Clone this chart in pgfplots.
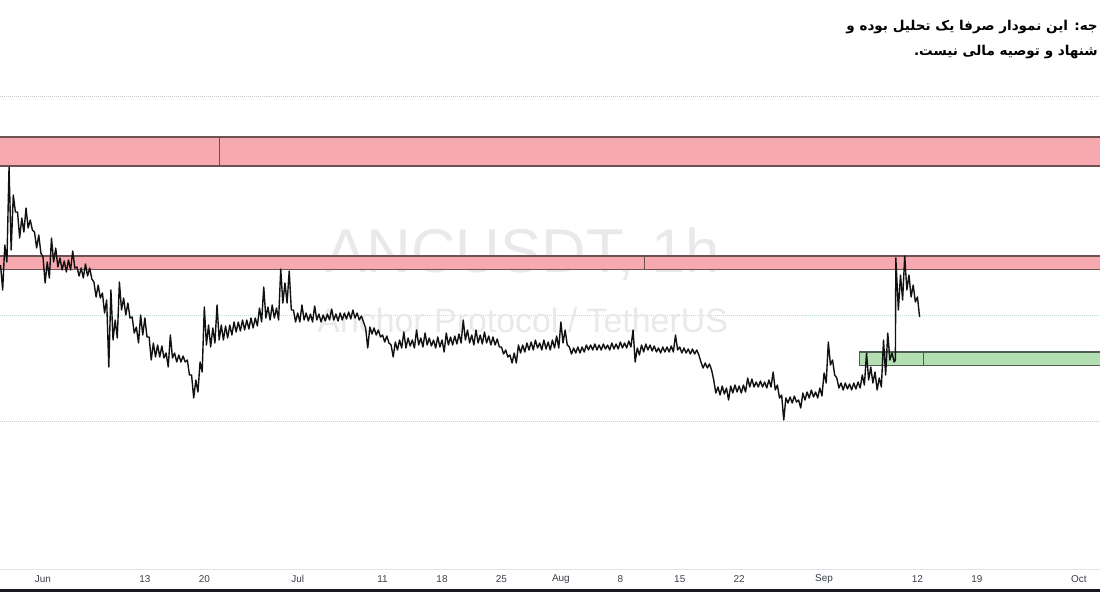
\documentclass[border=0pt]{standalone}
\usepackage{fontspec}
\setmainfont{Liberation Sans}
\newfontfamily\fa[Script=Arabic]{DejaVu Sans}
\TeXXeTstate=1
\usepackage{pgfplots}
\pgfplotsset{compat=1.18}
\definecolor{zoneR}{HTML}{F7A9B0}
\definecolor{zoneRb}{HTML}{6E5252}
\definecolor{zoneG}{HTML}{B3DFB3}
\definecolor{zoneGb}{HTML}{4E5E4E}
\definecolor{gridc}{HTML}{C8CBD2}
\definecolor{gridt}{HTML}{B8DEDE}
\definecolor{wm}{HTML}{E9E9EB}
\definecolor{labelc}{HTML}{3A3E48}
\definecolor{barc}{HTML}{16191F}
\definecolor{sepc}{HTML}{E0E3EB}
\definecolor{pricec}{HTML}{111111}
\begin{document}
\begin{tikzpicture}
\begin{axis}[
  at={(0,0)}, anchor=south west,
  width=1100bp, height=592bp, scale only axis,
  xmin=-4.065, xmax=125.5, ymin=0, ymax=592, y dir=reverse,
  axis line style={draw=none},
  xtick={1,13,20,31,41,48,55,62,69,76,83,93,104,111,123},
  xticklabels={Jun,13,20,Jul,11,18,25,Aug,8,15,22,Sep,12,19,Oct},
  ytick=\empty,
  major tick length=0pt,
  xticklabel style={font=\fontsize{10}{12}\selectfont, text=labelc, anchor=center, yshift=13bp},
]
% gridlines
\draw[gridc, densely dotted, line width=1bp] (axis cs:-4.065,97) -- (axis cs:125.5,97);
\draw[gridc, densely dotted, line width=1bp] (axis cs:-4.065,421) -- (axis cs:125.5,421);
\draw[gridt, densely dotted, line width=1bp] (axis cs:-4.065,315) -- (axis cs:125.5,315);
% watermark
\node[text=wm, font=\fontsize{62}{70}\selectfont, anchor=base] at (axis cs:57.5,272) {ANCUSDT, 1h};
\node[text=wm, font=\fontsize{34}{40}\selectfont, anchor=base] at (axis cs:57.5,332) {Anchor Protocol / TetherUS};
% zones
\draw[fill=zoneR, draw=zoneRb, line width=1.1bp] (axis cs:-6,137) rectangle (axis cs:21.77,166);
\draw[fill=zoneR, draw=zoneRb, line width=1.1bp] (axis cs:21.77,137) rectangle (axis cs:130,166);
\draw[fill=zoneR, draw=zoneRb, line width=1.1bp] (axis cs:-6,256) rectangle (axis cs:71.82,269.5);
\draw[fill=zoneR, draw=zoneRb, line width=1.1bp] (axis cs:71.82,256) rectangle (axis cs:130,269.5);
\draw[fill=zoneG, draw=zoneGb, line width=1.1bp] (axis cs:97.15,352) rectangle (axis cs:104.69,365.5);
\draw[fill=zoneG, draw=zoneGb, line width=1.1bp] (axis cs:104.69,352) rectangle (axis cs:130,365.5);
% price
\addplot[pricec, line width=1.4bp, line join=round, mark=none] coordinates {
(-4,265)(-3.75,290)(-3.5,245)(-3.25,262)(-3,167)(-2.75,250)(-2.5,195)(-2.25,212)
(-2,212)(-1.75,238)(-1.5,218)(-1.25,232)(-1,208)(-0.75,228)(-0.5,220)(-0.25,230)
(0,232)(0.25,248)(0.5,235)(0.75,253)(1,257)(1.25,283)(1.5,262)(1.75,278)
(2,238)(2.25,262)(2.5,248)(2.75,267)(3,258)(3.25,270)(3.5,261)(3.75,272)
(4,260)(4.25,270)(4.5,251)(4.75,268)(5,267)(5.25,276)(5.5,268)(5.75,278)
(6,264)(6.25,276)(6.5,268)(6.75,279)(7,282)(7.25,297)(7.5,285)(7.75,298)
(8,293)(8.25,313)(8.5,300)(8.75,367)(9,290)(9.25,340)(9.5,320)(9.75,338)
(10,282)(10.25,310)(10.5,298)(10.75,315)(11,303)(11.25,318)(11.5,317)(11.75,333)
(12,327)(12.25,343)(12.5,315)(12.75,335)(13,318)(13.25,337)(13.5,337)(13.75,360)
(14,343)(14.25,357)(14.5,345)(14.75,357)(15,346)(15.25,358)(15.5,353)(15.75,367)
(16,335)(16.25,358)(16.5,353)(16.75,362)(17,355)(17.25,362)(17.5,356)(17.75,362)
(18,360)(18.25,375)(18.5,375)(18.75,398)(19,380)(19.25,392)(19.5,362)(19.75,372)
(20,307)(20.25,345)(20.5,325)(20.75,347)(21,328)(21.25,343)(21.5,305)(21.75,340)
(22,325)(22.25,340)(22.5,326)(22.75,338)(23,325)(23.25,335)(23.5,322)(23.75,332)
(24,322)(24.25,331)(24.5,320)(24.75,330)(25,320)(25.25,329)(25.5,318)(25.75,328)
(26,318)(26.25,326)(26.5,308)(26.75,322)(27,287)(27.25,318)(27.5,307)(27.75,320)
(28,305)(28.25,318)(28.5,308)(28.75,320)(29,269)(29.25,303)(29.5,283)(29.75,303)
(30,271)(30.25,310)(30.5,310)(30.75,322)(31,313)(31.25,322)(31.5,305)(31.75,320)
(32,313)(32.25,321)(32.5,314)(32.75,322)(33,306)(33.25,320)(33.5,314)(33.75,322)
(34,315)(34.25,321)(34.5,314)(34.75,320)(35,309)(35.25,320)(35.5,314)(35.75,321)
(36,313)(36.25,320)(36.5,313)(36.75,319)(37,312)(37.25,319)(37.5,310)(37.75,318)
(38,313)(38.25,320)(38.5,316)(38.75,322)(39,328)(39.25,348)(39.5,327)(39.75,334)
(40,328)(40.25,335)(40.5,330)(40.75,337)(41,335)(41.25,342)(41.5,336)(41.75,343)
(42,345)(42.25,357)(42.5,342)(42.75,350)(43,340)(43.25,348)(43.5,332)(43.75,348)
(44,338)(44.25,346)(44.5,340)(44.75,348)(45,330)(45.25,345)(45.5,338)(45.75,347)
(46,333)(46.25,345)(46.5,338)(46.75,346)(47,340)(47.25,348)(47.5,337)(47.75,347)
(48,340)(48.25,352)(48.5,333)(48.75,345)(49,337)(49.25,345)(49.5,336)(49.75,344)
(50,334)(50.25,343)(50.5,320)(50.75,340)(51,330)(51.25,343)(51.5,335)(51.75,345)
(52,330)(52.25,343)(52.5,335)(52.75,344)(53,332)(53.25,343)(53.5,336)(53.75,345)
(54,337)(54.25,345)(54.5,339)(54.75,347)(55,347)(55.25,354)(55.5,350)(55.75,357)
(56,355)(56.25,363)(56.5,353)(56.75,363)(57,345)(57.25,353)(57.5,345)(57.75,352)
(58,343)(58.25,350)(58.5,342)(58.75,350)(59,340)(59.25,348)(59.5,343)(59.75,350)
(60,340)(60.25,349)(60.5,342)(60.75,350)(61,340)(61.25,348)(61.5,336)(61.75,348)
(62,322)(62.25,343)(62.5,330)(62.75,345)(63,347)(63.25,354)(63.5,348)(63.75,353)
(64,347)(64.25,353)(64.5,347)(64.75,352)(65,345)(65.25,350)(65.5,345)(65.75,350)
(66,344)(66.25,350)(66.5,345)(66.75,350)(67,344)(67.25,349)(67.5,345)(67.75,350)
(68,343)(68.25,349)(68.5,344)(68.75,349)(69,342)(69.25,348)(69.5,343)(69.75,348)
(70,341)(70.25,347)(70.5,330)(70.75,362)(71,348)(71.25,355)(71.5,345)(71.75,352)
(72,344)(72.25,350)(72.5,345)(72.75,351)(73,346)(73.25,352)(73.5,348)(73.75,353)
(74,347)(74.25,352)(74.5,347)(74.75,352)(75,346)(75.25,352)(75.5,335)(75.75,350)
(76,347)(76.25,353)(76.5,348)(76.75,353)(77,349)(77.25,354)(77.5,349)(77.75,354)
(78,350)(78.25,355)(78.5,362)(78.75,368)(79,363)(79.25,368)(79.5,364)(79.75,370)
(80,380)(80.25,393)(80.5,387)(80.75,395)(81,386)(81.25,394)(81.5,388)(81.75,400)
(82,386)(82.25,393)(82.5,385)(82.75,392)(83,386)(83.25,393)(83.5,385)(83.75,392)
(84,378)(84.25,387)(84.5,379)(84.75,387)(85,382)(85.25,387)(85.5,381)(85.75,387)
(86,382)(86.25,388)(86.5,380)(86.75,387)(87,372)(87.25,390)(87.5,385)(87.75,398)
(88,395)(88.25,420)(88.5,398)(88.75,403)(89,397)(89.25,403)(89.5,396)(89.75,402)
(90,400)(90.25,408)(90.5,393)(90.75,400)(91,392)(91.25,398)(91.5,390)(91.75,397)
(92,392)(92.25,398)(92.5,388)(92.75,396)(93,373)(93.25,383)(93.5,342)(93.75,365)
(94,360)(94.25,375)(94.5,378)(94.75,388)(95,383)(95.25,390)(95.5,383)(95.75,389)
(96,384)(96.25,390)(96.5,383)(96.75,389)(97,382)(97.25,388)(97.5,375)(97.75,385)
(98,353)(98.25,380)(98.5,367)(98.75,383)(99,372)(99.25,390)(99.5,378)(99.75,387)
(100,340)(100.25,375)(100.5,333)(100.75,360)(101,353)(101.25,362)(101.4,360)(101.45,258)
(101.75,310)(102,275)(102.25,300)(102.5,256)(102.75,290)(103,275)(103.25,297)(103.5,285)
(103.75,302)(104,297)(104.25,317)
};
% bottom strip
\draw[sepc, line width=1bp] (axis cs:-4.065,569.5) -- (axis cs:125.5,569.5);
\fill[barc] (axis cs:-4.065,588.5) rectangle (axis cs:125.5,592);
% note text (the part visible in the reference)
\node[anchor=base east, font=\fa\bfseries\fontsize{13.6}{16}\selectfont, inner sep=0pt] at (axis cs:125.26,31) {\beginR جه: این نمودار صرفا یک تحلیل بوده و\endR};
\node[anchor=base east, font=\fa\bfseries\fontsize{13.6}{16}\selectfont, inner sep=0pt] at (axis cs:125.26,56) {\beginR شنهاد و توصیه مالی نیست.\endR};
\end{axis}
\pgfresetboundingbox
\path (0,0) rectangle (1100bp,592bp);
\end{tikzpicture}
\end{document}
